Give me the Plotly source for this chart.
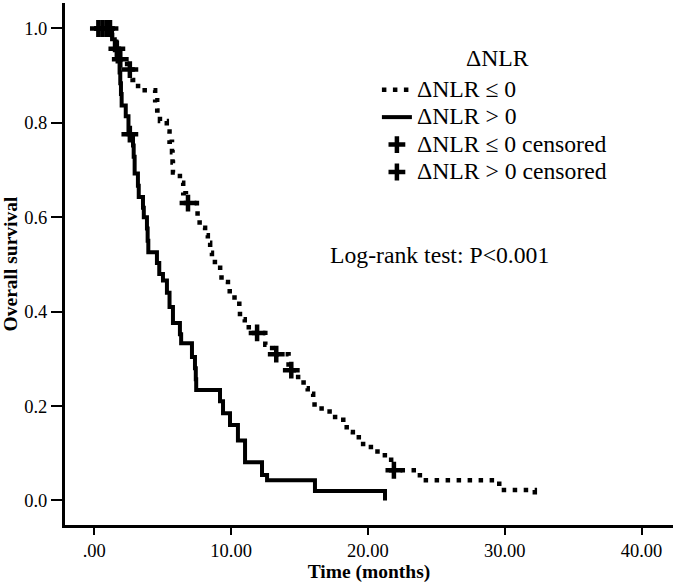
import plotly.graph_objects as go

# ---- data ----
# ΔNLR <= 0 group (dotted): step times (months) and survival after each step
neg_time = [0, 1.3, 1.6, 1.8, 2.4, 2.8, 3.2, 4.45, 4.6, 4.8,
            5.3, 5.5, 5.68, 5.72, 5.75, 6.26, 6.5, 6.7, 7.5, 7.55,
            7.7, 8.1, 8.3, 8.47, 8.6, 9.2, 9.3, 9.77, 9.9, 10.6,
            10.65, 11.0, 11.5, 12.5, 13.0, 14.2, 14.9, 15.3, 15.6, 16.0,
            16.1, 17.2, 18.2, 18.45, 18.9, 19.65, 20.7, 21.7, 23.8, 29.6,
            32.2]
neg_surv = [1.0, 0.978, 0.957, 0.935, 0.913, 0.891, 0.869, 0.848, 0.826, 0.804,
            0.782, 0.76, 0.738, 0.716, 0.695, 0.673, 0.651, 0.63, 0.615, 0.598,
            0.578, 0.562, 0.546, 0.525, 0.505, 0.483, 0.463, 0.45, 0.43, 0.407,
            0.384, 0.367, 0.355, 0.33, 0.31, 0.276, 0.25, 0.238, 0.226, 0.212,
            0.195, 0.177, 0.163, 0.145, 0.134, 0.113, 0.096, 0.064, 0.043, 0.022,
            0.0]

# ΔNLR > 0 group (solid)
pos_time = [0, 1.3, 1.5, 1.7, 1.85, 1.9, 1.95, 2.0, 2.3, 2.5,
            2.83, 2.88, 2.95, 3.19, 3.25, 3.56, 3.62, 3.85, 3.9, 3.95,
            4.58, 4.75, 5.02, 5.31, 5.5, 5.75, 6.26, 6.35, 7.14, 7.36,
            7.42, 7.45, 9.19, 9.41, 9.92, 10.5, 11.02, 12.26, 12.63, 16.13,
            21.25]
pos_surv = [1.0, 0.977, 0.954, 0.93, 0.907, 0.884, 0.861, 0.837, 0.814, 0.776,
            0.752, 0.728, 0.693, 0.667, 0.643, 0.62, 0.6, 0.576, 0.55, 0.526,
            0.503, 0.48, 0.466, 0.44, 0.41, 0.376, 0.352, 0.333, 0.304, 0.28,
            0.257, 0.234, 0.21, 0.185, 0.16, 0.127, 0.081, 0.054, 0.043, 0.02,
            0.0]

# censored observations
neg_cens_time = [0.3, 1.15, 1.65, 1.9, 2.6, 6.85, 11.9, 13.3, 14.4, 21.9]
neg_cens_surv = [1.0, 1.0, 0.957, 0.935, 0.913, 0.63, 0.355, 0.31, 0.276, 0.064]
pos_cens_time = [0.6, 0.9, 2.6]
pos_cens_surv = [1.0, 1.0, 0.776]

x_tickvals = [0, 10, 20, 30, 40]
x_ticktext = ['.00', '10.00', '20.00', '30.00', '40.00']
y_tickvals = [0.0, 0.2, 0.4, 0.6, 0.8, 1.0]
y_ticktext = ['0.0', '0.2', '0.4', '0.6', '0.8', '1.0']

legend_title = 'ΔNLR'
names = ['ΔNLR ≤ 0', 'ΔNLR &gt; 0', 'ΔNLR ≤ 0 censored', 'ΔNLR &gt; 0 censored']
test_text = 'Log-rank test: P&lt;0.001'

def lab(s):
    return '<span style="font-size:23.7px">' + s + '</span>'

FONT = 'Liberation Serif'

fig = go.Figure()
fig.add_trace(go.Scatter(x=neg_time, y=neg_surv, mode='lines', name=lab(names[0]),
                         line=dict(color='black', width=4.5, dash='4.5px,6.5px', shape='hv')))
fig.add_trace(go.Scatter(x=pos_time, y=pos_surv, mode='lines', name=lab(names[1]),
                         line=dict(color='black', width=4, shape='hv')))
fig.add_trace(go.Scatter(x=neg_cens_time, y=neg_cens_surv, mode='markers', name=lab(names[2]),
                         marker=dict(symbol='cross-thin', size=12, color='black',
                                     line=dict(color='black', width=4.5))))
fig.add_trace(go.Scatter(x=pos_cens_time, y=pos_cens_surv, mode='markers', name=lab(names[3]),
                         marker=dict(symbol='cross-thin', size=12, color='black',
                                     line=dict(color='black', width=4.5))))

fig.update_layout(
    width=675, height=585,
    margin=dict(l=65, r=2, t=3, b=60),
    plot_bgcolor='white', paper_bgcolor='white',
    font=dict(family=FONT, color='black'),
    showlegend=True,
    legend=dict(x=0.513, y=0.8698, xanchor='left', yanchor='top',
                bgcolor='rgba(0,0,0,0)', borderwidth=0,
                font=dict(size=18.8, family=FONT, color='black'),
                itemwidth=30, tracegroupgap=0),
    annotations=[
        dict(text=legend_title, xref='paper', yref='paper', x=0.712, y=0.8946,
             xanchor='center', yanchor='middle', showarrow=False,
             font=dict(size=23.7, family=FONT, color='black')),
        dict(text=test_text, xref='paper', yref='paper',
             x=0.432, y=0.517, xanchor='left', yanchor='middle', showarrow=False,
             font=dict(size=23.7, family=FONT, color='black'))],
)

fig.update_xaxes(range=[-2.14, 42.3], showline=True, linewidth=3, linecolor='black',
                 ticks='outside', ticklen=7, tickwidth=2, tickcolor='black',
                 tickvals=x_tickvals, ticktext=x_ticktext,
                 tickfont=dict(size=18.5, family=FONT, color='black'),
                 showgrid=False, zeroline=False, automargin=False,
                 title=dict(text='Time (months)', standoff=5,
                            font=dict(size=19.5, family=FONT, weight='bold', color='black')))
fig.update_yaxes(range=[-0.052, 1.054], showline=True, linewidth=3, linecolor='black',
                 ticks='outside', ticklen=11, tickwidth=2, tickcolor='black',
                 tickvals=y_tickvals, ticktext=y_ticktext,
                 tickfont=dict(size=18.5, family=FONT, color='black'),
                 showgrid=False, zeroline=False, automargin=False,
                 title=dict(text='Overall survival', standoff=9,
                            font=dict(size=19.5, family=FONT, weight='bold', color='black')))

fig.write_html('out.html', config={'displayModeBar': False},
               post_script="document.body.style.margin='0px';")
